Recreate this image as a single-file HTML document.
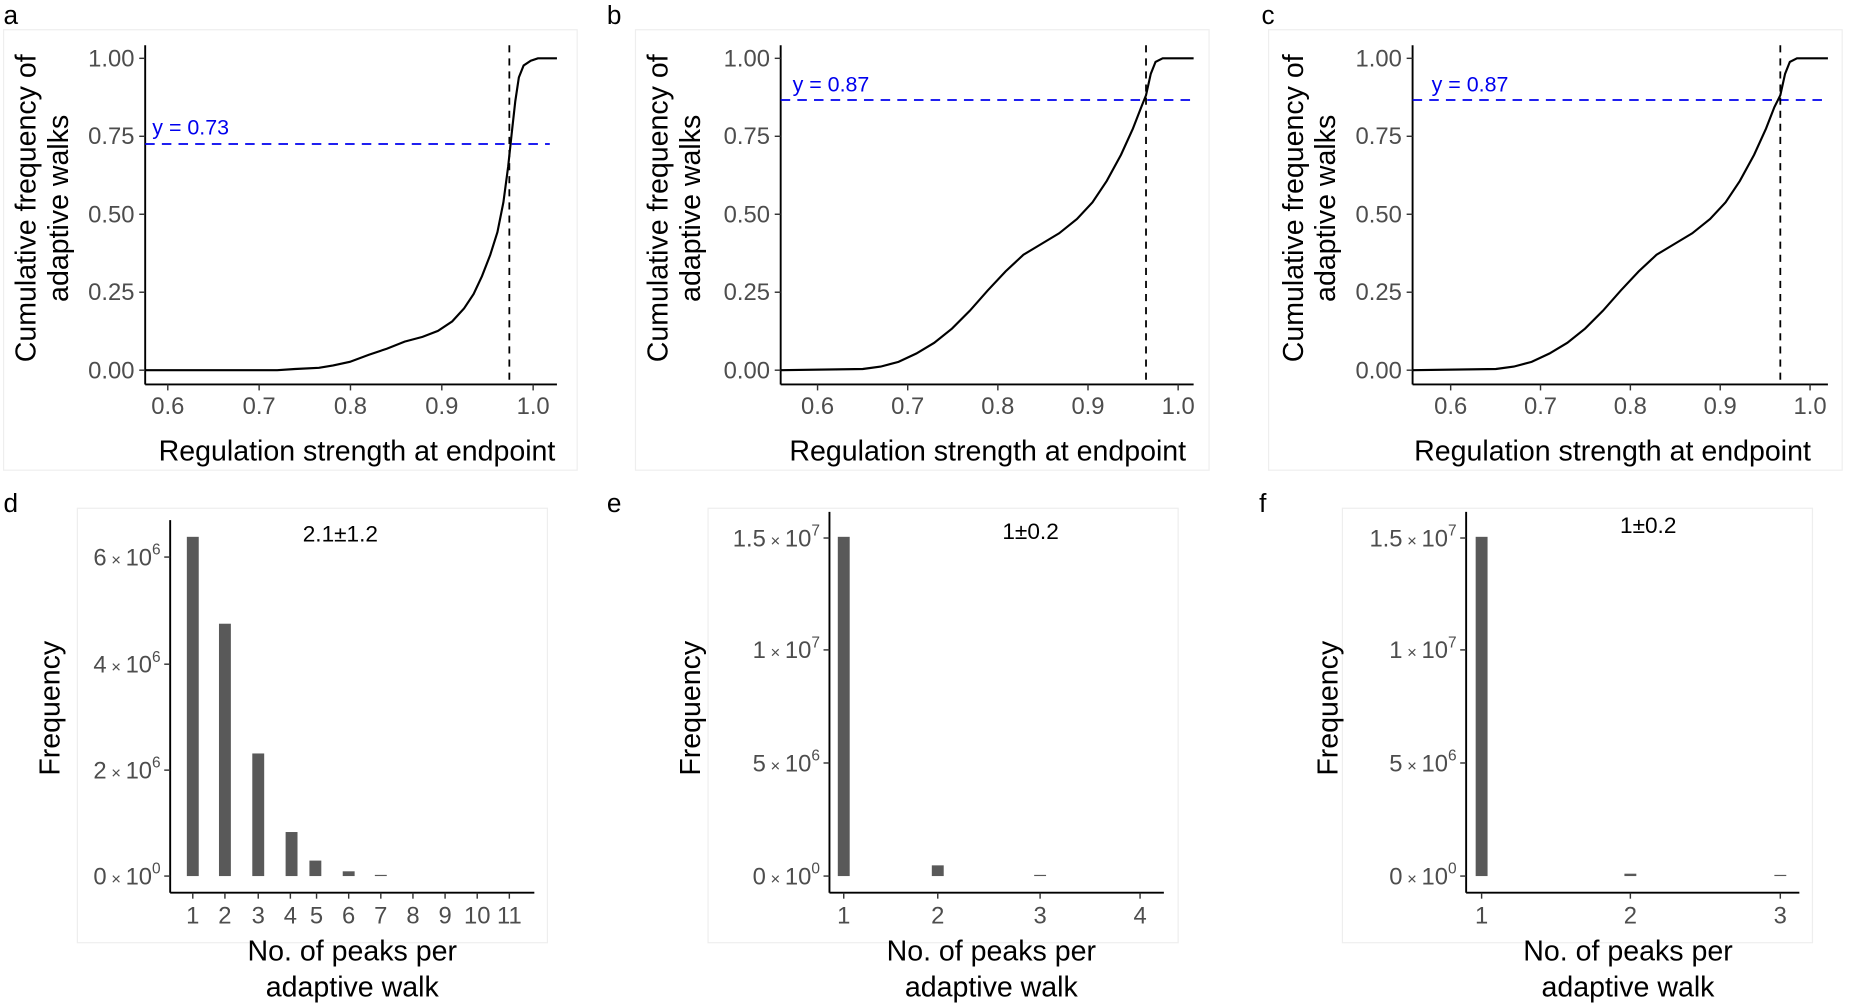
<!DOCTYPE html>
<html><head><meta charset="utf-8"><style>
html,body{margin:0;padding:0;background:#fff;}
svg{display:block;}
text{font-family:"Liberation Sans",Arial,sans-serif;}
.tk{fill:#4d4d4d;font-size:20px;}
.tt{fill:#000;font-size:24px;}
.pl{fill:#000;font-size:22px;}
.ax{stroke:#000;stroke-width:1.6;fill:none;}
.tick{stroke:#333;stroke-width:1.2;}
.box{fill:none;stroke:#eeeeee;stroke-width:1;}
</style></head><body>
<svg width="1866" height="1007" viewBox="0 0 1568 846" preserveAspectRatio="none">
<rect width="1568" height="846" fill="#fff"/>
<rect class="box" x="3" y="25" width="482" height="370"/>
<rect class="box" x="534" y="25" width="482" height="370"/>
<rect class="box" x="1066" y="25" width="482" height="370"/>
<rect class="box" x="65" y="427" width="395" height="365"/>
<rect class="box" x="595" y="427" width="395" height="365"/>
<rect class="box" x="1128" y="427" width="395" height="365"/>

<text class="pl" x="3" y="20">a</text>
<text class="pl" x="510" y="20">b</text>
<text class="pl" x="1060" y="20">c</text>
<text class="pl" x="3" y="430">d</text>
<text class="pl" x="510" y="430">e</text>
<text class="pl" x="1058" y="430">f</text>

<!-- ===== Panel a ===== -->
<g>
<line class="ax" x1="122" y1="38" x2="122" y2="323"/>
<line class="ax" x1="122" y1="323" x2="468" y2="323"/>
<g class="tick">
<line x1="117" y1="49" x2="122" y2="49"/><line x1="117" y1="114.5" x2="122" y2="114.5"/><line x1="117" y1="180" x2="122" y2="180"/><line x1="117" y1="245.5" x2="122" y2="245.5"/><line x1="117" y1="311" x2="122" y2="311"/>
<line x1="141" y1="323" x2="141" y2="328"/><line x1="217.75" y1="323" x2="217.75" y2="328"/><line x1="294.5" y1="323" x2="294.5" y2="328"/><line x1="371.25" y1="323" x2="371.25" y2="328"/><line x1="448" y1="323" x2="448" y2="328"/>
</g>
<g class="tk" text-anchor="end">
<text x="113" y="56">1.00</text><text x="113" y="121">0.75</text><text x="113" y="187">0.50</text><text x="113" y="252">0.25</text><text x="113" y="318">0.00</text>
</g>
<g class="tk" text-anchor="middle">
<text x="141" y="348">0.6</text><text x="217.75" y="348">0.7</text><text x="294.5" y="348">0.8</text><text x="371.25" y="348">0.9</text><text x="448" y="348">1.0</text>
</g>
<text class="tt" x="300" y="387" text-anchor="middle">Regulation strength at endpoint</text>
<text class="tt" transform="translate(30,175) rotate(-90)" text-anchor="middle">Cumulative frequency of</text>
<text class="tt" transform="translate(57,175) rotate(-90)" text-anchor="middle">adaptive walks</text>
<line x1="122" y1="121" x2="462" y2="121" stroke="#0000ee" stroke-width="1.5" stroke-dasharray="8,6"/>
<text x="128" y="113" fill="#0000ee" font-size="18">y = 0.73</text>
<line x1="428" y1="38" x2="428" y2="323" stroke="#000" stroke-width="1.5" stroke-dasharray="6,5"/>
<path fill="none" stroke="#000" stroke-width="1.8" d="M122,311 L233,311 L248,310 L268,309 L280,307 L294,304 L310,298 L325,293 L340,287 L355,283 L368,278 L380,270 L390,259 L398,247 L405,232 L412,214 L418,195 L423,170 L427,140 L430,112 L433,85 L436,65 L440,55 L446,51 L452,49 L468,49"/>
</g>

<!-- ===== Panel b ===== -->
<g>
<line class="ax" x1="656" y1="38" x2="656" y2="323"/>
<line class="ax" x1="656" y1="323" x2="1003" y2="323"/>
<g class="tick">
<line x1="651" y1="49" x2="656" y2="49"/><line x1="651" y1="114.5" x2="656" y2="114.5"/><line x1="651" y1="180" x2="656" y2="180"/><line x1="651" y1="245.5" x2="656" y2="245.5"/><line x1="651" y1="311" x2="656" y2="311"/>
<line x1="687" y1="323" x2="687" y2="328"/><line x1="762.75" y1="323" x2="762.75" y2="328"/><line x1="838.5" y1="323" x2="838.5" y2="328"/><line x1="914.25" y1="323" x2="914.25" y2="328"/><line x1="990" y1="323" x2="990" y2="328"/>
</g>
<g class="tk" text-anchor="end">
<text x="647" y="56">1.00</text><text x="647" y="121">0.75</text><text x="647" y="187">0.50</text><text x="647" y="252">0.25</text><text x="647" y="318">0.00</text>
</g>
<g class="tk" text-anchor="middle">
<text x="687" y="348">0.6</text><text x="762.75" y="348">0.7</text><text x="838.5" y="348">0.8</text><text x="914.25" y="348">0.9</text><text x="990" y="348">1.0</text>
</g>
<text class="tt" x="830" y="387" text-anchor="middle">Regulation strength at endpoint</text>
<text class="tt" transform="translate(561,175) rotate(-90)" text-anchor="middle">Cumulative frequency of</text>
<text class="tt" transform="translate(588,175) rotate(-90)" text-anchor="middle">adaptive walks</text>
<line x1="656" y1="84" x2="1003" y2="84" stroke="#0000ee" stroke-width="1.5" stroke-dasharray="8,6"/>
<text x="666" y="77" fill="#0000ee" font-size="18">y = 0.87</text>
<line x1="963" y1="38" x2="963" y2="323" stroke="#000" stroke-width="1.5" stroke-dasharray="6,5"/>
<path fill="none" stroke="#000" stroke-width="1.8" d="M656,311 L725,310 L740,308 L755,304 L770,297 L785,288 L800,276 L815,261 L830,244 L845,228 L860,214 L875,205 L890,196 L905,184 L918,170 L930,152 L942,130 L952,108 L959,90 L963,80 L967,62 L971,52 L977,49 L1003,49"/>
</g>

<!-- ===== Panel c ===== -->
<g>
<line class="ax" x1="1187" y1="38" x2="1187" y2="323"/>
<line class="ax" x1="1187" y1="323" x2="1536" y2="323"/>
<g class="tick">
<line x1="1182" y1="49" x2="1187" y2="49"/><line x1="1182" y1="114.5" x2="1187" y2="114.5"/><line x1="1182" y1="180" x2="1187" y2="180"/><line x1="1182" y1="245.5" x2="1187" y2="245.5"/><line x1="1182" y1="311" x2="1187" y2="311"/>
<line x1="1219" y1="323" x2="1219" y2="328"/><line x1="1294.5" y1="323" x2="1294.5" y2="328"/><line x1="1370" y1="323" x2="1370" y2="328"/><line x1="1445.5" y1="323" x2="1445.5" y2="328"/><line x1="1521" y1="323" x2="1521" y2="328"/>
</g>
<g class="tk" text-anchor="end">
<text x="1178" y="56">1.00</text><text x="1178" y="121">0.75</text><text x="1178" y="187">0.50</text><text x="1178" y="252">0.25</text><text x="1178" y="318">0.00</text>
</g>
<g class="tk" text-anchor="middle">
<text x="1219" y="348">0.6</text><text x="1294.5" y="348">0.7</text><text x="1370" y="348">0.8</text><text x="1445.5" y="348">0.9</text><text x="1521" y="348">1.0</text>
</g>
<text class="tt" x="1355" y="387" text-anchor="middle">Regulation strength at endpoint</text>
<text class="tt" transform="translate(1095,175) rotate(-90)" text-anchor="middle">Cumulative frequency of</text>
<text class="tt" transform="translate(1122,175) rotate(-90)" text-anchor="middle">adaptive walks</text>
<line x1="1187" y1="84" x2="1536" y2="84" stroke="#0000ee" stroke-width="1.5" stroke-dasharray="8,6"/>
<text x="1203" y="77" fill="#0000ee" font-size="18">y = 0.87</text>
<line x1="1496" y1="38" x2="1496" y2="323" stroke="#000" stroke-width="1.5" stroke-dasharray="6,5"/>
<path fill="none" stroke="#000" stroke-width="1.8" d="M1187,311 L1257,310 L1272,308 L1287,304 L1302,297 L1317,288 L1332,276 L1347,261 L1362,244 L1377,228 L1392,214 L1407,205 L1422,196 L1437,184 L1450,170 L1462,152 L1474,130 L1484,108 L1491,90 L1496,80 L1500,62 L1504,52 L1510,49 L1536,49"/>
</g>

<!-- ===== Panel d ===== -->
<g>
<line class="ax" x1="143" y1="437" x2="143" y2="750"/>
<line class="ax" x1="143" y1="750" x2="449" y2="750"/>
<g class="tick">
<line x1="138" y1="468" x2="143" y2="468"/><line x1="138" y1="558" x2="143" y2="558"/><line x1="138" y1="647" x2="143" y2="647"/><line x1="138" y1="736" x2="143" y2="736"/>
</g>
<g class="tk" text-anchor="end" font-size="19">
<text x="135" y="475">6<tspan font-size="14"> × </tspan>10<tspan dy="-9" font-size="13">6</tspan></text>
<text x="135" y="565">4<tspan font-size="14"> × </tspan>10<tspan dy="-9" font-size="13">6</tspan></text>
<text x="135" y="654">2<tspan font-size="14"> × </tspan>10<tspan dy="-9" font-size="13">6</tspan></text>
<text x="135" y="743">0<tspan font-size="14"> × </tspan>10<tspan dy="-9" font-size="13">0</tspan></text>
</g>
<g fill="#595959">
<rect x="157" y="451" width="10" height="285"/>
<rect x="184" y="524" width="10" height="212"/>
<rect x="212" y="633" width="10" height="103"/>
<rect x="240" y="699" width="10" height="37"/>
<rect x="260" y="723" width="10" height="13"/>
<rect x="288" y="732" width="10" height="4"/>
<rect x="315" y="735" width="10" height="1"/>
</g>
<g class="tick">
<line x1="162" y1="750" x2="162" y2="755"/><line x1="189" y1="750" x2="189" y2="755"/><line x1="217" y1="750" x2="217" y2="755"/><line x1="244" y1="750" x2="244" y2="755"/><line x1="266" y1="750" x2="266" y2="755"/><line x1="293" y1="750" x2="293" y2="755"/><line x1="320" y1="750" x2="320" y2="755"/><line x1="347" y1="750" x2="347" y2="755"/><line x1="374" y1="750" x2="374" y2="755"/><line x1="401" y1="750" x2="401" y2="755"/><line x1="428" y1="750" x2="428" y2="755"/>
</g>
<g class="tk" text-anchor="middle">
<text x="162" y="776">1</text><text x="189" y="776">2</text><text x="217" y="776">3</text><text x="244" y="776">4</text><text x="266" y="776">5</text><text x="293" y="776">6</text><text x="320" y="776">7</text><text x="347" y="776">8</text><text x="374" y="776">9</text><text x="401" y="776">10</text><text x="428" y="776">11</text>
</g>
<text x="286" y="455" font-size="19" text-anchor="middle" fill="#000">2.1±1.2</text>
<text class="tt" transform="translate(50,595) rotate(-90)" text-anchor="middle">Frequency</text>
<text class="tt" x="296" y="807" text-anchor="middle">No. of peaks per</text>
<text class="tt" x="296" y="837" text-anchor="middle">adaptive walk</text>
</g>

<!-- ===== Panel e ===== -->
<g>
<line class="ax" x1="697" y1="430" x2="697" y2="750"/>
<line class="ax" x1="697" y1="750" x2="978" y2="750"/>
<g class="tick">
<line x1="692" y1="452" x2="697" y2="452"/><line x1="692" y1="546" x2="697" y2="546"/><line x1="692" y1="641" x2="697" y2="641"/><line x1="692" y1="736" x2="697" y2="736"/>
</g>
<g class="tk" text-anchor="end" font-size="19">
<text x="689" y="459">1.5<tspan font-size="14"> × </tspan>10<tspan dy="-9" font-size="13">7</tspan></text>
<text x="689" y="553">1<tspan font-size="14"> × </tspan>10<tspan dy="-9" font-size="13">7</tspan></text>
<text x="689" y="648">5<tspan font-size="14"> × </tspan>10<tspan dy="-9" font-size="13">6</tspan></text>
<text x="689" y="743">0<tspan font-size="14"> × </tspan>10<tspan dy="-9" font-size="13">0</tspan></text>
</g>
<g fill="#595959">
<rect x="704" y="451" width="10" height="285"/>
<rect x="783" y="727" width="10" height="9"/>
<rect x="869" y="735" width="10" height="1"/>
</g>
<g class="tick">
<line x1="709" y1="750" x2="709" y2="755"/><line x1="788" y1="750" x2="788" y2="755"/><line x1="874" y1="750" x2="874" y2="755"/><line x1="958" y1="750" x2="958" y2="755"/>
</g>
<g class="tk" text-anchor="middle">
<text x="709" y="776">1</text><text x="788" y="776">2</text><text x="874" y="776">3</text><text x="958" y="776">4</text>
</g>
<text x="866" y="453" font-size="19" text-anchor="middle" fill="#000">1±0.2</text>
<text class="tt" transform="translate(588,595) rotate(-90)" text-anchor="middle">Frequency</text>
<text class="tt" x="833" y="807" text-anchor="middle">No. of peaks per</text>
<text class="tt" x="833" y="837" text-anchor="middle">adaptive walk</text>
</g>

<!-- ===== Panel f ===== -->
<g>
<line class="ax" x1="1232" y1="430" x2="1232" y2="750"/>
<line class="ax" x1="1232" y1="750" x2="1512" y2="750"/>
<g class="tick">
<line x1="1227" y1="452" x2="1232" y2="452"/><line x1="1227" y1="546" x2="1232" y2="546"/><line x1="1227" y1="641" x2="1232" y2="641"/><line x1="1227" y1="736" x2="1232" y2="736"/>
</g>
<g class="tk" text-anchor="end" font-size="19">
<text x="1224" y="459">1.5<tspan font-size="14"> × </tspan>10<tspan dy="-9" font-size="13">7</tspan></text>
<text x="1224" y="553">1<tspan font-size="14"> × </tspan>10<tspan dy="-9" font-size="13">7</tspan></text>
<text x="1224" y="648">5<tspan font-size="14"> × </tspan>10<tspan dy="-9" font-size="13">6</tspan></text>
<text x="1224" y="743">0<tspan font-size="14"> × </tspan>10<tspan dy="-9" font-size="13">0</tspan></text>
</g>
<g fill="#595959">
<rect x="1240" y="451" width="10" height="285"/>
<rect x="1365" y="734" width="10" height="2"/>
<rect x="1491" y="735" width="10" height="1"/>
</g>
<g class="tick">
<line x1="1245" y1="750" x2="1245" y2="755"/><line x1="1370" y1="750" x2="1370" y2="755"/><line x1="1496" y1="750" x2="1496" y2="755"/>
</g>
<g class="tk" text-anchor="middle">
<text x="1245" y="776">1</text><text x="1370" y="776">2</text><text x="1496" y="776">3</text>
</g>
<text x="1385" y="448" font-size="19" text-anchor="middle" fill="#000">1±0.2</text>
<text class="tt" transform="translate(1124,595) rotate(-90)" text-anchor="middle">Frequency</text>
<text class="tt" x="1368" y="807" text-anchor="middle">No. of peaks per</text>
<text class="tt" x="1368" y="837" text-anchor="middle">adaptive walk</text>
</g>
</svg>
</body></html>
